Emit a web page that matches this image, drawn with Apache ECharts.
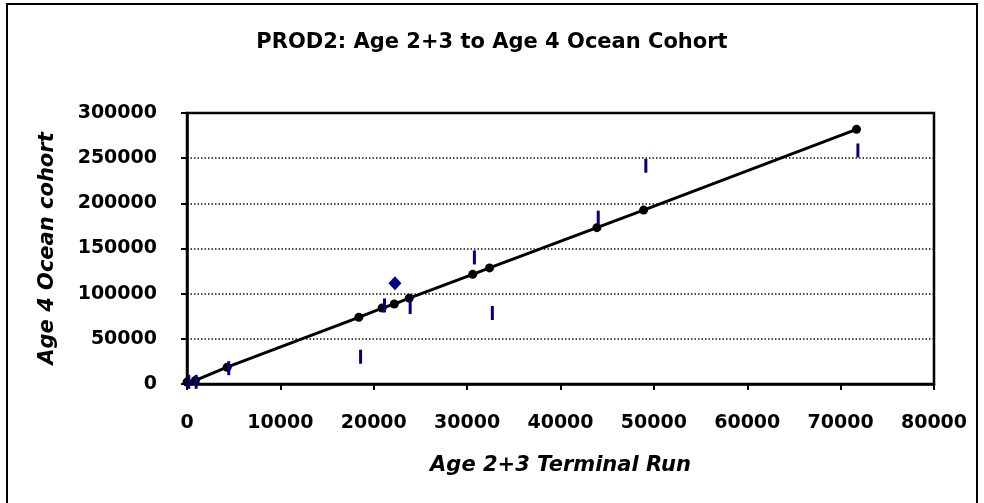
<!DOCTYPE html>
<html>
<head>
<meta charset="utf-8">
<script src="https://cdn.jsdelivr.net/npm/echarts@6/dist/echarts.min.js"></script>
<style>
	html,body{margin:0;padding:0;background:#fff;}
	#main{width:984px;height:503px;}
</style>
</head>
<body>
<div id="main"></div>
<script>
	// fitted values (black dots on the regression line)
	var fitX = [0, 900, 4300, 18400, 20900, 22200, 23800, 30600, 32400, 43900, 48900, 71700];
	var fitY = [2100, 4000, 18600, 73800, 84100, 88500, 95000, 121400, 128500, 173100, 192500, 281900];

	// observed values (blue dashes)
	var obsX = [190, 980, 4470, 18590, 21150, 23900, 30780, 32700, 44040, 49140, 71850];
	var obsY = [2400, 2400, 17500, 30200, 87000, 85200, 140100, 78600, 184100, 241600, 258500];

	// highlighted point (blue diamond)
	var hiX = [22270];
	var hiY = [111500];

	var xTicks = {min: 0, max: 80000, interval: 10000};
	var yTicks = {min: 0, max: 300000, interval: 50000};

	function pairs(xs, ys){
		var out = [];
		for (var i = 0; i < xs.length; i++) out.push([xs[i], ys[i]]);
		return out;
	}

	var font = 'DejaVu Sans';
	var blue = '#000080';
	var chart = echarts.init(document.getElementById('main'));

	chart.setOption({
		animation: false,
		backgroundColor: '#fff',
		title: {
			text: 'PROD2: Age 2+3 to Age 4 Ocean Cohort',
			left: 'center',
			top: 27,
			textStyle: {fontFamily: font, fontWeight: 'bold', fontSize: 21, color: '#000'}
		},
		graphic: [{
			type: 'rect',
			shape: {x: 7, y: 4, width: 970, height: 520},
			style: {fill: null, stroke: '#000', lineWidth: 2},
			silent: true
		}],
		grid: {
			left: 187, right: 50, top: 113, bottom: 119,
			show: true, borderColor: '#000', borderWidth: 2.5,
			containLabel: false
		},
		xAxis: {
			type: 'value',
			min: xTicks.min, max: xTicks.max, interval: xTicks.interval,
			name: 'Age 2+3 Terminal Run',
			nameLocation: 'middle',
			nameGap: 71,
			nameTextStyle: {fontFamily: font, fontWeight: 'bold', fontStyle: 'italic', fontSize: 21, color: '#000'},
			axisLine: {show: true, lineStyle: {color: '#000', width: 2.5}},
			axisTick: {show: true, length: 6, lineStyle: {color: '#000', width: 2}},
			axisLabel: {margin: 30, fontFamily: font, fontWeight: 'bold', fontSize: 19, color: '#000',
				formatter: function(v){ return String(v); }},
			splitLine: {show: false}
		},
		yAxis: {
			type: 'value',
			min: yTicks.min, max: yTicks.max, interval: yTicks.interval,
			name: 'Age 4 Ocean cohort',
			nameLocation: 'middle',
			nameGap: 129,
			nameTextStyle: {fontFamily: font, fontWeight: 'bold', fontStyle: 'italic', fontSize: 21, color: '#000'},
			axisLine: {show: true, lineStyle: {color: '#000', width: 2.5}},
			axisTick: {show: true, length: 6, lineStyle: {color: '#000', width: 2}},
			axisLabel: {margin: 30, fontFamily: font, fontWeight: 'bold', fontSize: 19, color: '#000',
				formatter: function(v){ return String(v); }},
			splitLine: {show: true, lineStyle: {color: '#111', width: 1.5, type: [1.5, 2]}}
		},
		series: [
			{
				name: 'fitted',
				type: 'line',
				data: pairs(fitX, fitY),
				symbol: 'circle',
				symbolSize: 9,
				showSymbol: true,
				itemStyle: {color: '#000', opacity: 1},
				lineStyle: {color: '#000', width: 3},
				z: 3
			},
			{
				name: 'observed',
				type: 'scatter',
				data: pairs(obsX, obsY),
				symbol: 'rect',
				symbolSize: [3, 14],
				itemStyle: {color: blue, opacity: 1},
				z: 4
			},
			{
				name: 'current',
				type: 'scatter',
				data: pairs(hiX, hiY),
				symbol: 'diamond',
				symbolSize: [13, 14],
				itemStyle: {color: blue, opacity: 1},
				z: 4
			}
		]
	});
</script>
</body>
</html>
